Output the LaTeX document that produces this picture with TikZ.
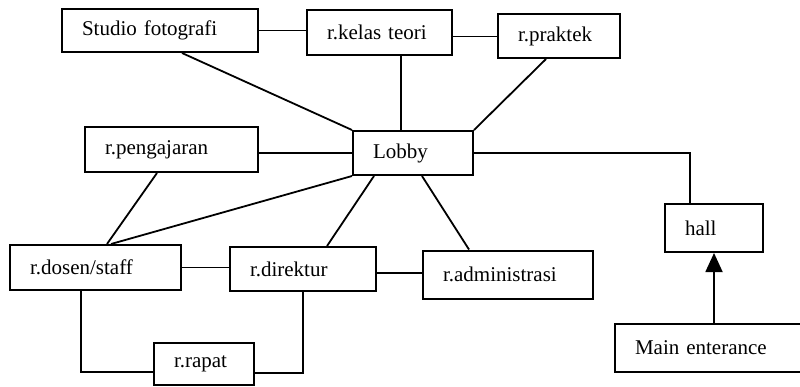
\documentclass[tikz,border=0pt]{standalone}
\usepackage{fontspec}
\setmainfont{Liberation Serif}
\usetikzlibrary{arrows.meta}
\begin{document}
\begin{tikzpicture}[x=1pt,y=-1pt,
  room/.style={draw, line width=2pt, inner xsep=20pt, inner ysep=0pt, align=left,
    font=\fontsize{21}{24}\selectfont, fill=white},
  link/.style={line width=1.8pt}]
\clip (0,0) rectangle (800,386);

% rooms
\node[room, text width=156pt, minimum height=43pt] (studio)  at (160,30.5)  {Studio fotografi};
\node[room, text width=105pt, minimum height=45pt] (kelas)   at (379.5,32.5){r.kelas teori};
\node[room, text width=82pt,  minimum height=44pt] (praktek) at (559,36)    {r.praktek};
\node[room, text width=80pt,  minimum height=44pt] (lobby)   at (413,153)   {Lobby};
\node[room, text width=133pt, minimum height=45pt] (peng)    at (171.5,149.5){r.pengajaran};
\node[room, text width=131pt, minimum height=45pt] (dosen)   at (95.5,267.5){r.dosen/staff};
\node[room, text width=106pt, minimum height=44pt] (direktur) at (303,269)  {r.direktur};
\node[room, text width=130pt, minimum height=48pt] (admin)   at (508,274.5) {r.administrasi};
\node[room, text width=60pt,  minimum height=42pt] (rapat)   at (204,364)   {r.rapat};
\node[room, text width=58pt,  minimum height=48pt] (hall)    at (714,228)   {hall};
\node[room, text width=157pt, minimum height=48pt] (main)    at (713.5,348) {Main enterance};

% connections
\draw[link] (studio.east) -- (studio.east -| kelas.west);
\draw[link] ([yshift=-4pt]kelas.east) -- ([yshift=-4pt]kelas.east -| praktek.west);
\draw[link] ([xshift=121pt]studio.south west) -- (lobby.north west);
\draw[link] ([xshift=21.5pt]kelas.south) -- ([xshift=21.5pt]kelas.south |- lobby.north);
\draw[link] ([xshift=49pt]praktek.south west) -- (lobby.north east);
\draw[link] ([yshift=-3.5pt]peng.east) -- ([yshift=-3.5pt]peng.east -| lobby.west);
\draw[link] ([xshift=73pt]peng.south west) -- ([xshift=98pt]dosen.north west);
\draw[link] (lobby.south west) -- ([xshift=102pt]dosen.north west);
\draw[link] ([xshift=22pt]lobby.south west) -- ([xshift=98pt]direktur.north west);
\draw[link] ([xshift=70pt]lobby.south west) -- ([xshift=47pt]admin.north west);
\draw[link] (lobby.east) -| ([xshift=26pt]hall.north west);
\draw[link] (dosen.east) -- (dosen.east -| direktur.west);
\draw[link] ([yshift=-4pt]direktur.east) -- ([yshift=-4pt]direktur.east -| admin.west);
\draw[link] ([xshift=72pt]dosen.south west) |- ([yshift=-8pt]rapat.west);
\draw[link] (direktur.south) |- ([yshift=-9pt]rapat.east);
\draw[link, -{Triangle[length=19pt,width=17pt]}] (hall.south |- main.north) -- (hall.south);
\end{tikzpicture}
\end{document}
